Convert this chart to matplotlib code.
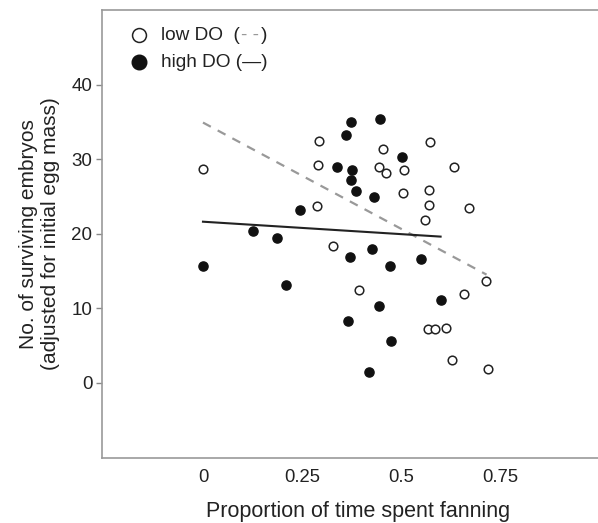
import matplotlib.pyplot as plt

plt.rcParams['font.family'] = ['Liberation Sans', 'DejaVu Sans']

# ─── data ─────────────────────────────────────────────────────────
low_x = [0.0, 0.294, 0.291, 0.287, 0.454, 0.445, 0.461, 0.329, 0.572,
         0.507, 0.634, 0.505, 0.571, 0.570, 0.672, 0.561, 0.715, 0.395,
         0.658, 0.569, 0.586, 0.614, 0.629, 0.719]
low_y = [28.7, 32.4, 29.2, 23.7, 31.3, 28.9, 28.1, 18.4, 32.3,
         28.5, 28.9, 25.5, 25.9, 23.9, 23.5, 21.8, 13.6, 12.5,
         11.9, 7.2, 7.2, 7.4, 3.0, 1.8]

high_x = [0.375, 0.447, 0.361, 0.339, 0.376, 0.375, 0.386, 0.432, 0.245,
          0.127, 0.188, 0.427, 0.371, 0.502, 0.471, 0.550, 0.601, 0.445,
          0.365, 0.476, 0.419, 0.0, 0.210]
high_y = [35.0, 35.4, 33.2, 29.0, 28.6, 27.2, 25.7, 24.9, 23.2,
          20.4, 19.4, 17.9, 16.9, 30.3, 15.7, 16.6, 11.1, 10.3,
          8.3, 5.6, 1.5, 15.7, 13.1]

# regression lines (end points)
low_fit_x = [0.0, 0.716]
low_fit_y = [34.9, 14.5]
high_fit_x = [0.0, 0.600]
high_fit_y = [21.6, 19.6]

x_ticks = [0, 0.25, 0.5, 0.75]
x_labels = ["0", "0.25", "0.5", "0.75"]
y_ticks = [0, 10, 20, 30, 40]

# ─── figure ───────────────────────────────────────────────────────
fig = plt.figure(figsize=(5.98, 5.23), dpi=100)
ax = fig.add_axes([102 / 598, 1 - 458 / 523, 497 / 598, 448 / 523])

ax.plot(low_fit_x, low_fit_y, color="#999999", lw=1.6, dashes=(4, 3.5))
ax.plot(high_fit_x, high_fit_y, color="#222222", lw=1.5)

ax.plot(low_x, low_y, "o", ms=6.2, mfc="white", mec="#222222", mew=1.1,
        linestyle="none")
ax.plot(high_x, high_y, "o", ms=6.6, mfc="#111111", mec="#111111",
        linestyle="none")

ax.set_xlim(-0.255, 1.0)
ax.set_ylim(-10.1, 50.0)
ax.set_xticks(x_ticks)
ax.set_xticklabels(x_labels)
ax.set_yticks(y_ticks)
ax.tick_params(axis="x", length=0, pad=8, labelsize=13.3, colors="#222222")
ax.tick_params(axis="y", length=4, width=1, color="#888888", pad=3,
               labelsize=13.5, labelcolor="#222222")
for side in ("left", "top", "bottom"):
    ax.spines[side].set_color("#999999")
    ax.spines[side].set_linewidth(1.2)
ax.spines["right"].set_visible(False)

ax.set_xlabel("Proportion of time spent fanning", fontsize=15.5,
              color="#222222", labelpad=7)
ax.xaxis.set_label_coords(0.516, -0.095)
ax.set_ylabel("No. of surviving embryos\n(adjusted for initial egg mass)",
              fontsize=15, color="#222222", labelpad=8)

# ─── hand-made legend ─────────────────────────────────────────────
tr = ax.transAxes
lx, ly1, ly2 = 37 / 497, 1 - 25 / 448, 1 - 52 / 448
ax.plot([lx], [ly1], "o", ms=10, mfc="white", mec="#222222", mew=1.1,
        transform=tr, clip_on=False)
ax.plot([lx], [ly2], "o", ms=10.5, mfc="#111111", mec="#111111",
        transform=tr, clip_on=False)
tx = 59 / 497
fs = 13.7
t1 = ax.text(tx, ly1 - 0.002, "low DO  (", transform=tr, fontsize=fs,
             va="center", color="#222222")
t2 = ax.annotate("- -", xy=(1, 0.5), xycoords=t1, xytext=(1, 0),
                 textcoords="offset points", fontsize=fs, va="center",
                 color="#999999")
ax.annotate(")", xy=(1, 0.5), xycoords=t2, xytext=(1, 0),
            textcoords="offset points", fontsize=fs, va="center",
            color="#222222")
ax.text(tx, ly2 - 0.002, "high DO (\u2014)", transform=tr, fontsize=fs,
        va="center", color="#222222")

fig.savefig("out.png", dpi=100)
